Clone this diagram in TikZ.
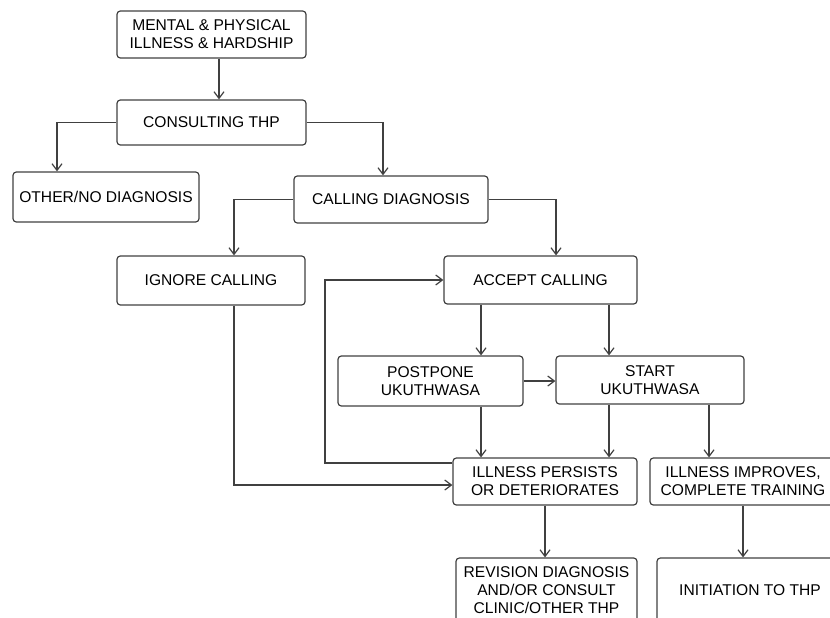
\documentclass[tikz,border=0pt]{standalone}
\usepackage{fontspec}
\setmainfont{Liberation Sans}
\usepackage{tikz}
\usetikzlibrary{arrows.meta}
\tikzset{>=latex}
\tikzstyle{block} = [draw = black!75, line width = 0.9pt, rounded corners = 2.5pt, align = center, inner sep = 0, font = \fontsize{11.7}{13.5}\selectfont]
\tikzstyle{conn} = [-{Straight Barb[length = 5pt, width = 7.5pt]}, draw = black!75, line width = 0.9pt]

\begin{document}
\begin{tikzpicture}[x = 0.75pt, y = -0.75pt]
\clip (0, 0) rectangle (830, 617);
\node [block, minimum width = 141.75pt, minimum height = 35.25pt] (ill) at (211.5, 34.5) {MENTAL \& PHYSICAL\\ILLNESS \& HARDSHIP};
\node [block, minimum width = 141.75pt, minimum height = 33.75pt] (cons) at (211.5, 122.5) {CONSULTING THP};
\node [block, minimum width = 139.5pt, minimum height = 37.5pt] (other) at (106, 197) {OTHER/NO DIAGNOSIS};
\node [block, minimum width = 145.5pt, minimum height = 35.25pt] (call) at (391, 199.5) {CALLING DIAGNOSIS};
\node [block, minimum width = 141pt, minimum height = 36.75pt] (ign) at (211, 280.5) {IGNORE CALLING};
\node [block, minimum width = 144.75pt, minimum height = 36pt] (acc) at (540.5, 280) {ACCEPT CALLING};
\node [block, minimum width = 138.75pt, minimum height = 37.5pt] (post) at (430.5, 381) {POSTPONE\\UKUTHWASA};
\node [block, minimum width = 141pt, minimum height = 36pt] (start) at (650, 380) {START\\UKUTHWASA};
\node [block, minimum width = 138pt, minimum height = 35.25pt] (pers) at (545, 481.5) {ILLNESS PERSISTS\\OR DETERIORATES};
\node [block, minimum width = 139.5pt, minimum height = 35.25pt] (impr) at (743, 481.5) {ILLNESS IMPROVES,\\COMPLETE TRAINING};
\node [block, minimum width = 135.75pt, minimum height = 48pt] (rev) at (546.5, 590) {REVISION DIAGNOSIS\\AND/OR CONSULT\\CLINIC/OTHER THP};
\node [block, minimum width = 139.5pt, minimum height = 48pt] (init) at (750, 590) {INITIATION TO THP};
\draw [conn] (ill.south -| 219, 0) -- (cons.north -| 219, 0);
\draw [conn] (cons.west) -| (other.north -| 57, 0);
\draw [conn] (cons.east) -| (call.north -| 383, 0);
\draw [conn] (call.west) -| (ign.north -| 234, 0);
\draw [conn] (call.east) -| (acc.north -| 556, 0);
\draw [conn] (acc.south -| 481, 0) -- (post.north -| 481, 0);
\draw [conn] (acc.south -| 609, 0) -- (start.north -| 609, 0);
\draw [conn] (post.east) -- (start.west |- post.east);
\draw [conn] (post.south -| 481, 0) -- (pers.north -| 481, 0);
\draw [conn] (start.south -| 609, 0) -- (pers.north -| 609, 0);
\draw [conn] (start.south -| 709, 0) -- (impr.north -| 709, 0);
\draw [conn] (ign.south -| 234, 0) |- (pers.west |- 0, 485);
\draw [conn] (pers.west |- 0, 463) -| (325, 0 |- acc.west) -- (acc.west);
\draw [conn] (pers.south) -- (rev.north -| pers.south);
\draw [conn] (impr.south) -- (init.north -| impr.south);
\end{tikzpicture}
\end{document}
